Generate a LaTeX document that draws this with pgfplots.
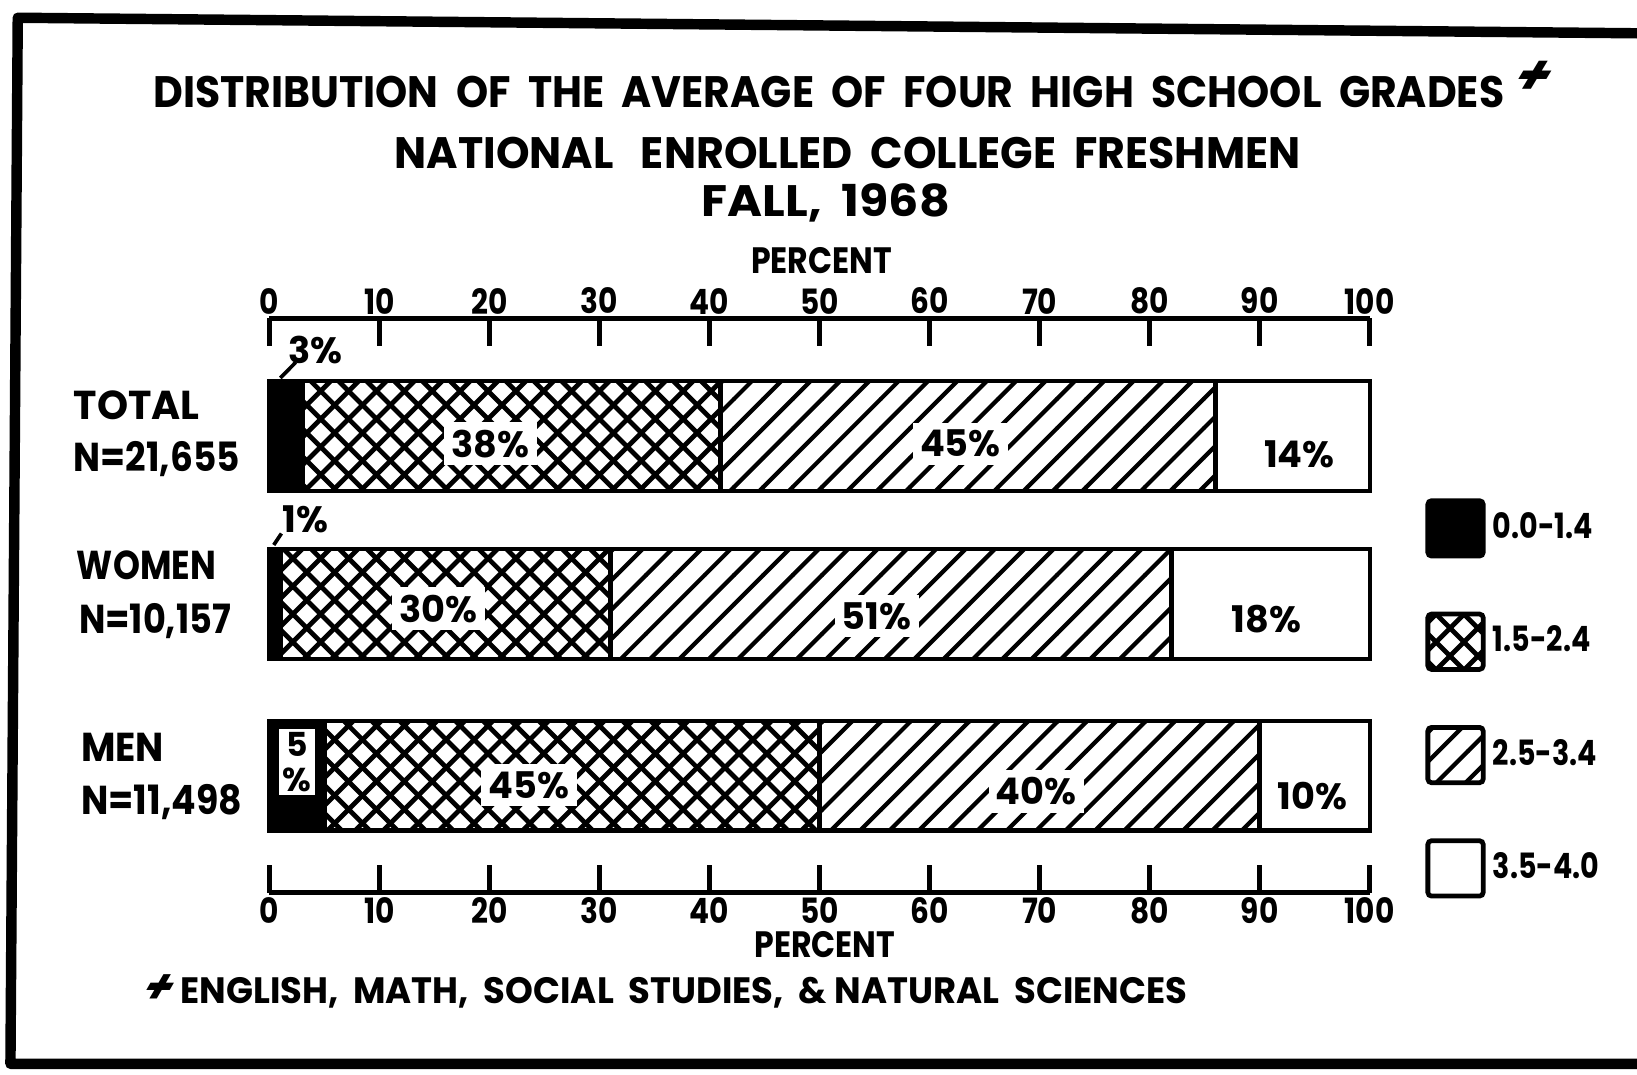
\documentclass[border=0pt]{standalone}
\usepackage{pgfplots}
\pgfplotsset{compat=1.18}
\usetikzlibrary{patterns}
\usepackage{fontspec}
\setmainfont{Poppins}
\newfontfamily\slantplus[FakeSlant=0.6]{Poppins}
\pgfdeclarepatternformonly{mycross}{\pgfqpoint{-1pt}{-1pt}}{\pgfqpoint{8.6pt}{8.6pt}}{\pgfqpoint{7.6pt}{7.6pt}}{%
  \pgfsetlinewidth{1.3pt}%
  \pgfpathmoveto{\pgfqpoint{0pt}{0pt}}\pgfpathlineto{\pgfqpoint{7.7pt}{7.7pt}}%
  \pgfpathmoveto{\pgfqpoint{0pt}{7.6pt}}\pgfpathlineto{\pgfqpoint{7.7pt}{-0.1pt}}%
  \pgfusepath{stroke}}
\pgfdeclarepatternformonly{myhatch}{\pgfqpoint{-1pt}{-1pt}}{\pgfqpoint{9pt}{9pt}}{\pgfqpoint{8pt}{8pt}}{%
  \pgfsetlinewidth{1.15pt}%
  \pgfpathmoveto{\pgfqpoint{0pt}{0pt}}\pgfpathlineto{\pgfqpoint{8.1pt}{8.1pt}}%
  \pgfusepath{stroke}}
\begin{document}
\begin{tikzpicture}[x=0.1mm,y=0.1mm]
\path[use as bounding box] (0,0) rectangle (1568,1029);
\draw[line width=1mm, line join=round] (1580,997) -- (17,1012) -- (10,10) -- (1580,10);
% titles
\node[font=\bfseries\fontsize{12}{12}\selectfont, anchor=base] at (794,926) {\scalebox{0.93}[1]{DISTRIBUTION\ \ OF\ \ THE\ \ AVERAGE\ \ OF\ \ FOUR\ \ HIGH\ \ SCHOOL\ \ GRADES}};
\node[font=\bfseries\fontsize{15}{15}\selectfont, anchor=base] at (1460,938) {\slantplus +};
\node[font=\bfseries\fontsize{12}{12}\selectfont, anchor=base] at (812,868) {\scalebox{0.97}[1]{NATIONAL\ \ \ ENROLLED\ \ COLLEGE\ \ FRESHMEN}};
\node[font=\bfseries\fontsize{12}{12}\selectfont, anchor=base] at (791,822) {\scalebox{1.08}[1]{FALL,\ \ 1968}};
\node[font=\bfseries\fontsize{10}{10}\selectfont] at (787,779) {\scalebox{0.86}[1]{PERCENT}};
\node[font=\bfseries\fontsize{10}{10}\selectfont] at (790,124) {\scalebox{0.86}[1]{PERCENT}};
\node[font=\bfseries\fontsize{10}{10}\selectfont, anchor=west, inner sep=0pt] at (130,79) {\scalebox{0.965}[1]{{\fontsize{13}{13}\selectfont\slantplus +}\ \ ENGLISH,\ \ MATH,\ \ SOCIAL\ \ STUDIES,\ \ \&\ NATURAL\ \ SCIENCES}};
% category labels
\begin{scope}[every node/.style={font=\bfseries\fontsize{11}{11}\selectfont, anchor=west, inner sep=0pt}]
\node at (70,641) {\scalebox{0.98}[1]{TOTAL}};
\node at (70,589) {\scalebox{0.89}[1]{N=21,655}};
\node at (73,488) {\scalebox{0.85}[1]{WOMEN}};
\node at (75,434) {\scalebox{0.87}[1]{N=10,157}};
\node at (77,313) {\scalebox{0.93}[1]{MEN}};
\node at (77,261) {\scalebox{0.9}[1]{N=11,498}};
\end{scope}
\begin{axis}[
  at={(25.8mm,17.4mm)}, anchor=south west,
  scale only axis, width=105.4mm, height=55mm,
  xmin=0, xmax=100, ymin=0, ymax=550,
  xbar stacked, bar width=105,
  axis x line*=bottom, axis y line=none,
  axis line style={line width=1.2pt},
  xtick={0,10,...,100}, tick align=inside, major tick length=2.6mm,
  xtick style={line width=1.3pt, black},
  xticklabel={\scalebox{0.85}[1]{\pgfmathprintnumber{\tick}}},
  xticklabel style={font=\bfseries\fontsize{9.5}{9.5}\selectfont, inner sep=1pt},
  /pgf/number format/assume math mode=true,
  every axis plot/.append style={draw=black, line width=1.2pt},
  legend image code/.code={\draw[#1, line width=1.3pt, rounded corners=1pt] (0mm,-2.65mm) rectangle (5.3mm,2.65mm);},
  legend style={at={(1.05,0.688)}, anchor=north west, draw=none, fill=none, inner sep=0pt, row sep=5.1mm,
    font=\bfseries\fontsize{9.5}{9.5}\selectfont},
  legend cell align=left,
  clip=false,
]
\addplot[fill=black] coordinates {(3,437.5) (1,276.5) (5,112)};
\addplot[pattern=mycross] coordinates {(38,437.5) (30,276.5) (45,112)};
\addplot[pattern=myhatch] coordinates {(45,437.5) (51,276.5) (40,112)};
\addplot[fill=white] coordinates {(14,437.5) (18,276.5) (10,112)};
\legend{\scalebox{0.82}[1]{0.0-1.4}, \scalebox{0.82}[1]{1.5-2.4}, \scalebox{0.82}[1]{2.5-3.4}, \scalebox{0.82}[1]{3.5-4.0}}
\end{axis}
\begin{axis}[
  at={(25.8mm,17.4mm)}, anchor=south west,
  scale only axis, width=105.4mm, height=55mm,
  xmin=0, xmax=100, ymin=0, ymax=550,
  axis x line*=top, axis y line=none,
  axis line style={line width=1.2pt},
  xtick={0,10,...,100}, tick align=inside, major tick length=2.6mm,
  xtick style={line width=1.3pt, black},
  xticklabel={\scalebox{0.85}[1]{\pgfmathprintnumber{\tick}}},
  xticklabel style={font=\bfseries\fontsize{9.5}{9.5}\selectfont, inner sep=1pt},
  /pgf/number format/assume math mode=true,
  clip=false,
]
\addplot[draw=none] coordinates {(0,0)};
\begin{scope}[every node/.style={font=\bfseries\fontsize{10}{10}\selectfont, fill=white, inner sep=2pt}]
\node at (axis cs:20.1,430) {38\%};
\node at (axis cs:62.8,430) {45\%};
\node at (axis cs:93.6,420) {14\%};
\node at (axis cs:15.4,272) {30\%};
\node at (axis cs:55.2,265) {51\%};
\node at (axis cs:90.6,262) {18\%};
\node at (axis cs:23.6,103) {45\%};
\node at (axis cs:69.7,97) {40\%};
\node at (axis cs:94.8,93) {10\%};
\node[font=\bfseries\fontsize{9}{9}\selectfont, inner sep=1pt] at (axis cs:2.5,125) {\shortstack{5\\\%}};
\node[fill=none] at (axis cs:4.2,520) {3\%};
\node[fill=none] at (axis cs:3.3,358) {1\%};
\end{scope}
\draw[line width=1pt] (axis cs:1.0,493) -- (axis cs:2.4,508);
\draw[line width=1pt] (axis cs:0.4,333) -- (axis cs:1.1,344);
\end{axis}
\end{tikzpicture}
\end{document}
